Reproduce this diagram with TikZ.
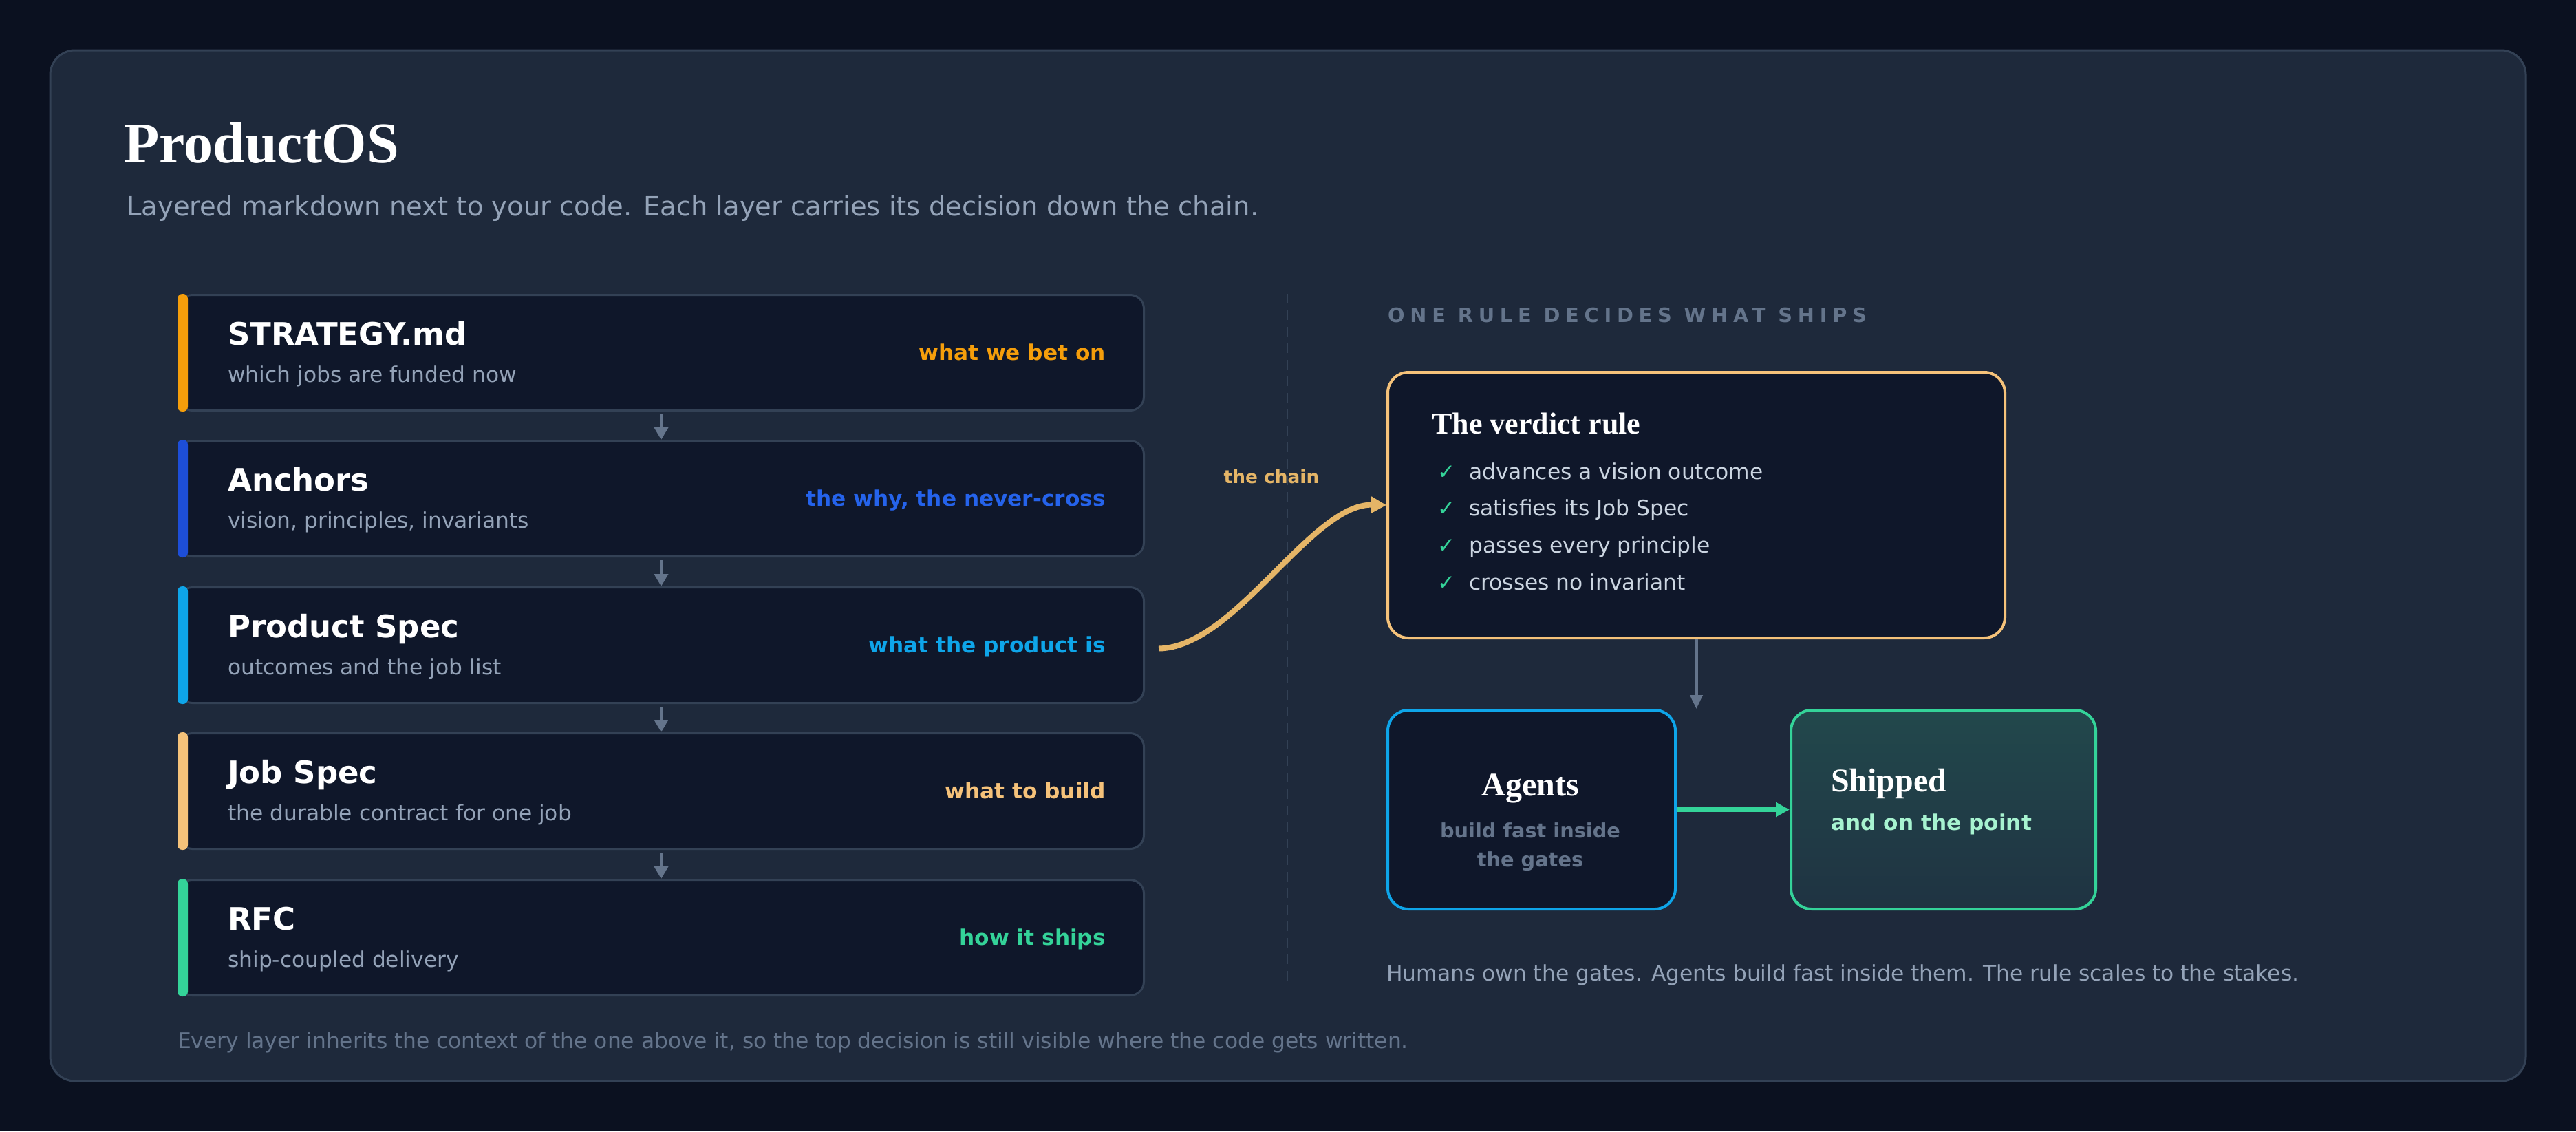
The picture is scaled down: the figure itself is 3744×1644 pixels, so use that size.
\documentclass[tikz,border=0pt]{standalone}
\usepackage{fontspec}
\setmainfont{Liberation Serif}
\setsansfont{DejaVu Sans}
\newfontfamily\trackfont[LetterSpace=27]{DejaVu Sans}
\usetikzlibrary{arrows.meta}
\definecolor{bgout}{HTML}{0B1120}
\definecolor{panel}{HTML}{1E293B}
\definecolor{panelline}{HTML}{334155}
\definecolor{boxfill}{HTML}{0F172A}
\definecolor{muted}{HTML}{94A3B8}
\definecolor{dim}{HTML}{64748B}
\definecolor{cOrange}{HTML}{F59E0B}
\definecolor{cBlue}{HTML}{2563EB}
\definecolor{cBlueBar}{HTML}{1D4ED8}
\definecolor{cSky}{HTML}{0EA5E9}
\definecolor{cSand}{HTML}{F5C27A}
\definecolor{cChain}{HTML}{E5B567}
\definecolor{cGreen}{HTML}{34D399}
\definecolor{cMint}{HTML}{A7F3D0}
\definecolor{listtext}{HTML}{CBD5E1}
\definecolor{shipTop}{HTML}{22484C}
\definecolor{shipBot}{HTML}{1F3342}
\newcommand{\pxsize}[1]{\fontsize{#1}{#1}\selectfont}
\begin{document}
\begin{tikzpicture}[x=1pt,y=-1pt,
  layerbox/.style={draw=panelline, line width=3pt, fill=boxfill, rounded corners=20pt, minimum width=1403pt, minimum height=168pt, anchor=north west, inner sep=0pt},
  ltitle/.style={anchor=base west, inner sep=0pt, text=white, font=\sffamily\bfseries\pxsize{45}},
  lsub/.style={anchor=base west, inner sep=0pt, text=muted, font=\sffamily\pxsize{31.3}},
  ltag/.style={anchor=base east, inner sep=0pt, font=\sffamily\bfseries\pxsize{31.2}},
  downarrow/.style={draw=dim, line width=4pt, -{Triangle[length=18pt,width=20pt]}},
  bigbox/.style={line width=4pt, rounded corners=30pt, anchor=north west, inner sep=0pt},
  checkmark/.style={anchor=base west, inner sep=0pt, text=cGreen, font=\sffamily\pxsize{31}},
  checktext/.style={anchor=base west, inner sep=0pt, text=listtext, font=\sffamily\pxsize{31.3}},
  serifhead/.style={inner sep=0pt, text=white, font=\rmfamily\bfseries\pxsize{#1}},
]
\useasboundingbox (0,0) rectangle (3744,1644);
\fill[bgout] (0,0) rectangle (3744,1644);
\draw[panelline, fill=panel, line width=3pt, rounded corners=36pt] (73,73) rectangle (3671,1571);

% header
\node[serifhead=84, anchor=base west] (title) at (180,236) {ProductOS};
\node[anchor=base west, inner sep=0pt, text=muted, font=\sffamily\pxsize{38.5}] (subtitle) at (184,313) {Layered markdown next to your code. Each layer carries its decision down the chain.};

% layers
\node[layerbox] (L1) at (258,427) {};
\node[layerbox] (L2) at (258,639) {};
\node[layerbox] (L3) at (258,852) {};
\node[layerbox] (L4) at (258,1064) {};
\node[layerbox] (L5) at (258,1277) {};
\fill[cOrange, rounded corners=7pt] (L1.north west) rectangle ([xshift=15pt]L1.south west);
\fill[cBlueBar, rounded corners=7pt] (L2.north west) rectangle ([xshift=15pt]L2.south west);
\fill[cSky, rounded corners=7pt] (L3.north west) rectangle ([xshift=15pt]L3.south west);
\fill[cSand, rounded corners=7pt] (L4.north west) rectangle ([xshift=15pt]L4.south west);
\fill[cGreen, rounded corners=7pt] (L5.north west) rectangle ([xshift=15pt]L5.south west);

\node[ltitle] (t1) at (331,501) {STRATEGY.md};
\node[lsub] (s1) at (331,555) {which jobs are funded now};
\node[ltag, text=cOrange] (g1) at (1607,523) {what we bet on};

\node[ltitle] (t2) at (331,713) {Anchors};
\node[lsub] (s2) at (331,767) {vision, principles, invariants};
\node[ltag, text=cBlue] (g2) at (1607,735) {the why, the never-cross};

\node[ltitle] (t3) at (331,926) {Product Spec};
\node[lsub] (s3) at (331,980) {outcomes and the job list};
\node[ltag, text=cSky] (g3) at (1607,948) {what the product is};

\node[ltitle] (t4) at (331,1138) {Job Spec};
\node[lsub] (s4) at (331,1192) {the durable contract for one job};
\node[ltag, text=cSand] (g4) at (1607,1160) {what to build};

\node[ltitle] (t5) at (331,1351) {RFC};
\node[lsub] (s5) at (331,1405) {ship-coupled delivery};
\node[ltag, text=cGreen] (g5) at (1607,1373) {how it ships};

\draw[downarrow] ([yshift=-4pt]L1.south) -- (L2.north);
\draw[downarrow] ([yshift=-4pt]L2.south) -- (L3.north);
\draw[downarrow] ([yshift=-4pt]L3.south) -- (L4.north);
\draw[downarrow] ([yshift=-4pt]L4.south) -- (L5.north);

\node[anchor=base west, inner sep=0pt, text=dim, font=\sffamily\pxsize{31.3}] (footL) at (258,1523) {Every layer inherits the context of the one above it, so the top decision is still visible where the code gets written.};

% divider
\coordinate (divTop) at (1871,427);
\coordinate (divBot) at (1871,1425);
\draw[panelline, line width=2.5pt, dash pattern=on 14pt off 10pt] (divTop) -- (divBot);

% right side
\node[anchor=base west, inner sep=0pt, text=dim, font=\trackfont\bfseries\pxsize{28.8}] (rulehead) at (2017,468) {ONE RULE DECIDES WHAT SHIPS};

\node[bigbox, draw=cSand, fill=boxfill, minimum width=897pt, minimum height=386pt] (V) at (2015,539) {};
\node[serifhead=44, anchor=base west] (vtitle) at (2081,630) {The verdict rule};
\node[checkmark] (c1) at (2089,696) {✓};
\node[checktext] (i1) at (2135,696) {advances a vision outcome};
\node[checkmark] (c2) at (2089,749) {✓};
\node[checktext] (i2) at (2135,749) {satisfies its Job Spec};
\node[checkmark] (c3) at (2089,803) {✓};
\node[checktext] (i3) at (2135,803) {passes every principle};
\node[checkmark] (c4) at (2089,857) {✓};
\node[checktext] (i4) at (2135,857) {crosses no invariant};

\node[anchor=base, inner sep=0pt, text=cChain, font=\sffamily\bfseries\pxsize{26.4}] (chainlbl) at (1848,702) {the chain};
\draw[cChain, line width=8pt, -{Triangle[length=22pt,width=23pt]}]
  ([xshift=20pt,yshift=-5pt]L3.east) .. controls (1795,941) and (1905,732) .. (V.west);

\node[bigbox, draw=cSky, fill=boxfill, minimum width=418pt, minimum height=289pt] (A) at (2015,1030) {};
\node[serifhead=48, anchor=base] (atitle) at (2224,1156) {Agents};
\node[anchor=base, inner sep=0pt, text=dim, font=\sffamily\bfseries\pxsize{28.8}] (asub1) at (2224,1217) {build fast inside};
\node[anchor=base, inner sep=0pt, text=dim, font=\sffamily\bfseries\pxsize{28.8}] (asub2) at (2224,1259) {the gates};

\node[bigbox, draw=cGreen, top color=shipTop, bottom color=shipBot, minimum width=443pt, minimum height=289pt] (S) at (2601,1030) {};
\node[serifhead=48, anchor=base west] (stitle) at (2661,1150) {Shipped};
\node[anchor=base west, inner sep=0pt, text=cMint, font=\sffamily\bfseries\pxsize{31.2}] (ssub) at (2661,1206) {and on the point};

\coordinate (vEnd) at (V.south |- A.north);
\draw[draw=dim, line width=4pt, -{Triangle[length=20pt,width=18pt]}] (V.south) -- (vEnd);
\draw[draw=cGreen, line width=7pt, -{Triangle[length=20pt,width=20pt]}] (A.east) -- (S.west);

\node[anchor=base west, inner sep=0pt, text=muted, font=\sffamily\pxsize{31.3}] (footR) at (2015,1425) {Humans own the gates. Agents build fast inside them. The rule scales to the stakes.};
\end{tikzpicture}
\end{document}
